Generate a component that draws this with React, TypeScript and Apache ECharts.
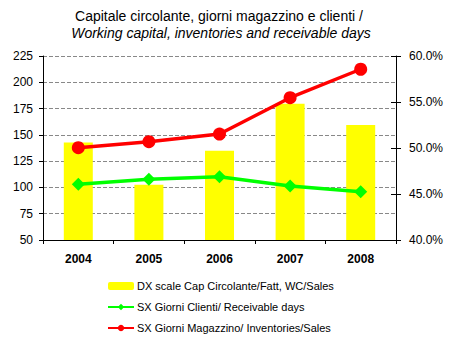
import React, { useEffect, useRef } from "react";
import * as echarts from "echarts";

const years = ["2004", "2005", "2006", "2007", "2008"];
const wcSales = [50.6, 46.0, 49.7, 54.8, 52.5];
const receivableDays = [103, 107.7, 110.2, 101.4, 95.9];
const inventoryDays = [137.8, 143.5, 150.8, 185.3, 212.4];
const titleLine1 = "Capitale circolante, giorni magazzino e clienti /";
const titleLine2 = "Working capital, inventories and receivable days";
const seriesNames = [
  "DX scale Cap Circolante/Fatt, WC/Sales",
  "SX Giorni Clienti/ Receivable days",
  "SX Giorni Magazzino/ Inventories/Sales",
];

const FONT = "'Liberation Sans', Arial, sans-serif";

export default function App() {
  const ref = useRef<HTMLDivElement>(null);
  useEffect(() => {
    const chart = echarts.init(ref.current!, null, { renderer: "svg" });
    chart.setOption({
      animation: false,
      backgroundColor: "#ffffff",
      textStyle: { fontFamily: FONT },
      graphic: [
        {
          type: "text",
          x: 219,
          y: 9,
          style: {
            text: titleLine1,
            fontFamily: FONT,
            fontSize: 14,
            fill: "#000",
            textAlign: "center",
            textVerticalAlign: "top",
          },
        },
        {
          type: "text",
          x: 221,
          y: 26,
          style: {
            text: titleLine2,
            fontFamily: FONT,
            fontSize: 14,
            fontStyle: "italic",
            fill: "#000",
            textAlign: "center",
            textVerticalAlign: "top",
          },
        },
      ],
      grid: { left: 43, right: 54, top: 56, bottom: 105 },
      legend: {
        orient: "vertical",
        left: 107,
        top: 279,
        padding: 0,
        itemWidth: 26,
        itemHeight: 8,
        itemGap: 7,
        textStyle: { fontFamily: FONT, fontSize: 11, color: "#000", lineHeight: 14, padding: [0, 0, 0, -2] },
        data: seriesNames,
      },
      xAxis: {
        type: "category",
        data: years,
        boundaryGap: true,
        axisLine: { lineStyle: { color: "#000", width: 1 } },
        axisTick: { show: true, length: 4, lineStyle: { color: "#000" } },
        axisLabel: { color: "#000", fontFamily: FONT, fontSize: 12, fontWeight: "bold", margin: 13 },
      },
      yAxis: [
        {
          type: "value",
          min: 50,
          max: 225,
          interval: 25,
          position: "left",
          axisLine: { show: true, lineStyle: { color: "#000" } },
          axisTick: { show: true, length: 4, lineStyle: { color: "#000" } },
          axisLabel: { color: "#000", fontFamily: FONT, fontSize: 12, margin: 10 },
          splitLine: { show: true, lineStyle: { color: "#888", type: [4, 2], width: 1 } },
        },
        {
          type: "value",
          min: 40,
          max: 60,
          interval: 5,
          position: "right",
          axisLine: { show: true, lineStyle: { color: "#000" } },
          axisTick: { show: true, length: 5, lineStyle: { color: "#000" } },
          axisLabel: {
            color: "#000",
            fontFamily: FONT,
            fontSize: 12,
            margin: 13,
            formatter: (v: number) => v.toFixed(1) + "%",
          },
          splitLine: { show: false },
        },
        {
          type: "value",
          min: 40,
          max: 60,
          interval: 5,
          position: "right",
          axisLine: { show: false },
          axisTick: { show: true, inside: true, length: 5, lineStyle: { color: "#000" } },
          axisLabel: { show: false },
          splitLine: { show: false },
        },
      ],
      series: [
        {
          name: seriesNames[0],
          type: "bar",
          yAxisIndex: 1,
          data: wcSales,
          barWidth: 29,
          itemStyle: { color: "#ffff00" },
          z: 1,
        },
        {
          name: seriesNames[1],
          type: "line",
          yAxisIndex: 0,
          data: receivableDays,
          symbol: "diamond",
          symbolSize: 13,
          lineStyle: { color: "#00ff00", width: 3.5 },
          itemStyle: { color: "#00ff00" },
          z: 3,
        },
        {
          name: seriesNames[2],
          type: "line",
          yAxisIndex: 0,
          data: inventoryDays,
          symbol: "circle",
          symbolSize: 13,
          lineStyle: { color: "#ff0000", width: 3.5 },
          itemStyle: { color: "#ff0000" },
          z: 4,
        },
      ],
    });
    return () => chart.dispose();
  }, []);
  return (
    <div
      ref={ref}
      style={{ position: "fixed", left: 0, top: 0, width: 450, height: 345, background: "#fff" }}
    />
  );
}
